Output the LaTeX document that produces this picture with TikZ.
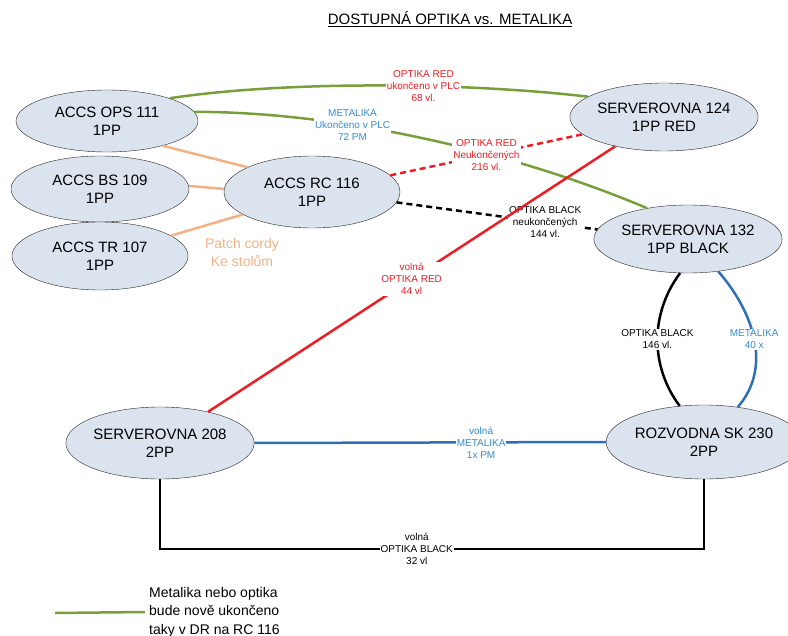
\documentclass[tikz,border=0pt]{standalone}
\usepackage{fontspec}
\setmainfont{Liberation Sans}
\usetikzlibrary{shapes.geometric}
\definecolor{roomfill}{RGB}{219,227,238}
\definecolor{cgreen}{RGB}{119,160,58}
\definecolor{corange}{RGB}{244,177,131}
\definecolor{cred}{RGB}{236,30,36}
\definecolor{cblue}{RGB}{46,112,180}
\definecolor{tblue}{RGB}{52,140,210}
\begin{document}
\begin{tikzpicture}[
  x=1pt, y=-1pt,
  room/.style={ellipse, draw=black!85, fill=roomfill, inner sep=0pt,
    align=center, font=\fontsize{15}{18}\selectfont},
  cable/.style={line width=2.5pt},
  note/.style={fill=white, inner sep=1pt, align=center,
    font=\fontsize{10}{12}\selectfont},
]
  \useasboundingbox (0,0) rectangle (788,636);
  \node (title) at (450,19) {\fontsize{15}{18}\selectfont\underline{DOSTUPNÁ OPTIKA vs. METALIKA}};

  \node[room, minimum width=182pt, minimum height=62pt] (ops) at (107,121) {ACCS OPS 111\\1PP};
  \node[room, minimum width=178pt, minimum height=66pt] (bs) at (100,189) {ACCS BS 109\\1PP};
  \node[room, minimum width=176pt, minimum height=68pt] (tr) at (100,256) {ACCS TR 107\\1PP};
  \node[room, minimum width=176pt, minimum height=72pt] (rc) at (312,192) {ACCS RC 116\\1PP};
  \node[room, minimum width=178pt, minimum height=68pt] (s124) at (664,117) {SERVEROVNA 124\\1PP RED};
  \node[room, minimum width=170pt, minimum height=68pt] (s132) at (688,239) {SERVEROVNA 132\\1PP BLACK};
  \node[room, minimum width=176pt, minimum height=72pt] (s208) at (160,443) {SERVEROVNA 208\\2PP};
  \node[room, minimum width=164pt, minimum height=74pt] (r230) at (704,442) {ROZVODNA SK 230\\2PP};

  \draw[cable, corange] (ops.-24) -- (rc.159);
  \draw[cable, corange] (bs.2) -- (rc.178);
  \draw[cable, corange] (tr.16) -- (rc.198);
  \node[text=corange, align=center, font=\fontsize{14}{18}\selectfont] (patch) at (242,252) {Patch cordy\\Ke stolům};

  \draw[cable, cgreen] (ops.20) .. controls +(120,-18) and +(-120,-14) .. (s124.165)
    node[note, pos=0.6, text=cred] {OPTIKA RED\\ukončeno v PLC\\68 vl.};
  \draw[cable, cgreen] (ops.6) .. controls +(150,0) and +(-130,-55) .. (s132.143)
    node[note, pos=0.34, text=tblue] {METALIKA\\Ukončeno v PLC\\72 PM};
  \draw[cable, cred, dash pattern=on 6pt off 4pt] (rc.12) -- (s124.192)
    node[note, pos=0.5, text=cred] {OPTIKA RED\\Neukončených\\216 vl.};
  \draw[cable, black, dash pattern=on 6pt off 4pt] (rc.-7) -- (s132.174)
    node[note, pos=0.74] {OPTIKA BLACK\\neukončených\\144 vl.};
  \draw[cable, cred] (s124.211) -- (s208.33)
    node[note, pos=0.5, text=cred] {volná\\OPTIKA RED\\44 vl};

  \draw[cable, black] (s132.257) .. controls +(-30,40) and +(-30,-40) .. (r230.124)
    node[note, pos=0.5] {OPTIKA BLACK\\146 vl.};
  \draw[cable, cblue] (s132.-47) .. controls +(35,40) and +(35,-40) .. (r230.46)
    node[note, pos=0.5, text=tblue] {METALIKA\\40 x};
  \draw[cable, cblue] (s208.0) -- (r230.180)
    node[note, pos=0.645, text=tblue] {volná\\METALIKA\\1x PM};
  \draw[cable, black] (s208.south) -- ++(0,70) -| (r230.south)
    node[note, pos=0.236] {volná\\OPTIKA BLACK\\32 vl};

  \coordinate (lg) at (55,613);
  \node[anchor=west, inner sep=4pt, align=left, font=\fontsize{14}{18.5}\selectfont] (legend) at (145,612)
    {Metalika nebo optika\\bude nově ukončeno\\taky v DR na RC 116};
  \draw[cable, cgreen] (lg) -- (legend.west);
\end{tikzpicture}
\end{document}
